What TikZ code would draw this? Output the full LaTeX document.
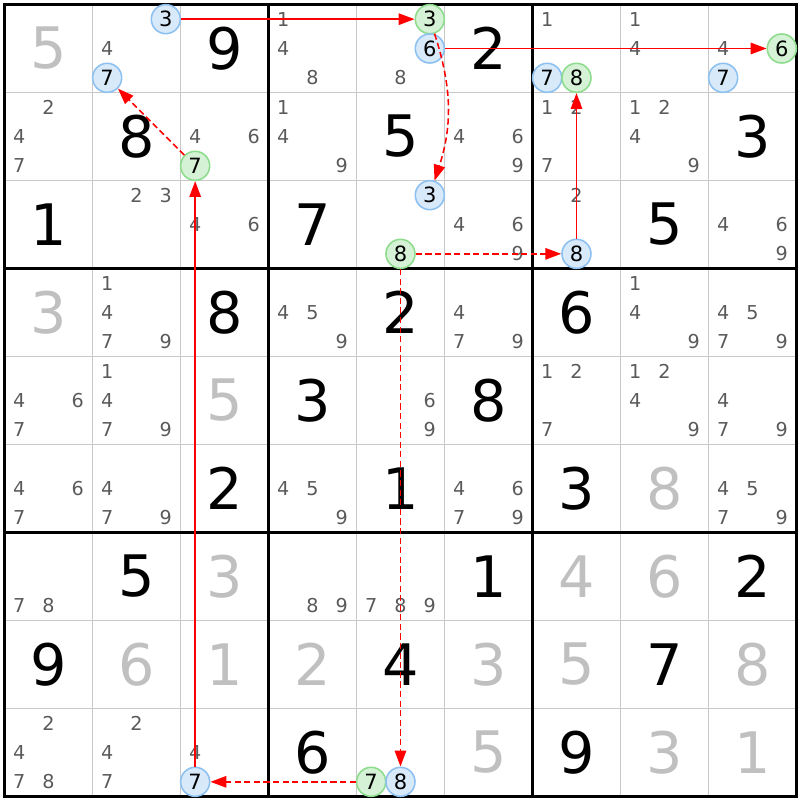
\documentclass[tikz,border=0pt]{standalone}
\usepackage{fontspec}
\setmainfont{DejaVu Sans}
\usetikzlibrary{arrows.meta}

\definecolor{solvedgray}{HTML}{C0C0C0}
\definecolor{candgray}{HTML}{5A5A5A}
\definecolor{gridgray}{HTML}{C8C8C8}
\definecolor{blueedge}{HTML}{8CC0F0}
\definecolor{bluefill}{HTML}{D8EAFA}
\definecolor{greenedge}{HTML}{8CDC8C}
\definecolor{greenfill}{HTML}{D6F2D6}

\begin{document}
\begin{tikzpicture}[x=1cm,y=-1cm]
		\tikzstyle{given} = [font=\fontsize{18.5}{20}\selectfont, text=black, inner sep=0pt]
		\tikzstyle{solved} = [given, text=solvedgray]
		\tikzstyle{cand} = [font=\fontsize{6.2}{7}\selectfont, text=candgray, inner sep=0pt]
		\tikzstyle{bluecand} = [circle, draw=blueedge, fill=bluefill, line width=0.5pt, 
		minimum size=0.33cm, inner sep=0pt, text=black, font=\fontsize{6.8}{7}\selectfont]
		\tikzstyle{greencand} = [bluecand, draw=greenedge, fill=greenfill]
		\tikzstyle{arrow} = [red, line width=0.5pt, -{Triangle[length=1.8mm,width=1.3mm]}]
		\tikzstyle{dasharrow} = [arrow, dash pattern=on 2pt off 1.1pt]
		\useasboundingbox (-0.051,-0.051) rectangle (9.040,9.040);
		% grid
		\foreach \i in {1,2,4,5,7,8} {
			\draw [gridgray, line width=0.55pt] (\i,0) -- (\i,9);
			\draw [gridgray, line width=0.55pt] (0,\i) -- (9,\i);
		}
		\foreach \i in {3,6} {
			\draw [black, line width=0.95pt] (\i,0) -- (\i,9);
			\draw [black, line width=0.95pt] (0,\i) -- (9,\i);
		}
		\draw [black, line width=0.95pt] (0,0) rectangle (9,9);
		% givens and solved cells
		\foreach \r/\c/\v in {1/3/9,1/6/2,2/2/8,2/5/5,2/9/3,3/1/1,3/4/7,3/8/5,4/3/8,4/5/2,
			4/7/6,5/4/3,5/6/8,6/3/2,6/5/1,6/7/3,7/2/5,7/6/1,7/9/2,8/1/9,8/5/4,8/8/7,9/4/6,9/7/9}
			\node (g\r\c) [given] at (\c-0.5,\r-0.5) {\v};
		\foreach \r/\c/\v in {1/1/5,4/1/3,5/3/5,6/8/8,7/3/3,7/7/4,7/8/6,8/2/6,8/3/1,8/4/2,
			8/6/3,8/7/5,8/9/8,9/6/5,9/8/3,9/9/1}
			\node (s\r\c) [solved] at (\c-0.5,\r-0.5) {\v};
		% candidates
		\foreach \r/\c/\ds in {1/2/{4},1/4/{1,4,8},1/5/{8},1/7/{1},1/8/{1,4},1/9/{4},
			2/1/{2,4,7},2/3/{4,6},2/4/{1,4,9},2/6/{4,6,9},2/7/{1,2,7},2/8/{1,2,4,9},
			3/2/{2,3},3/3/{4,6},3/6/{4,6,9},3/7/{2},3/9/{4,6,9},
			4/2/{1,4,7,9},4/4/{4,5,9},4/6/{4,7,9},4/8/{1,4,9},4/9/{4,5,7,9},
			5/1/{4,6,7},5/2/{1,4,7,9},5/5/{6,9},5/7/{1,2,7},5/8/{1,2,4,9},5/9/{4,7,9},
			6/1/{4,6,7},6/2/{4,7,9},6/4/{4,5,9},6/6/{4,6,7,9},6/9/{4,5,7,9},
			7/1/{7,8},7/4/{8,9},7/5/{7,8,9},9/1/{2,4,7,8},9/2/{2,4,7},9/3/{4}} {
			\foreach \d in \ds {
				\pgfmathtruncatemacro{\cx}{mod(\d-1,3)}
				\pgfmathtruncatemacro{\cy}{div(\d-1,3)}
				\node (k\r\c\d) [cand] at ({\c-1+(\cx+0.5)/3},{\r-1+(\cy+0.5)/3}) {\d};
			}
		}
		% marked candidates
		\foreach \r/\c/\d/\s in {1/2/3/bluecand,1/2/7/bluecand,1/5/3/greencand,1/5/6/bluecand,
			1/7/7/bluecand,1/7/8/greencand,1/9/6/greencand,1/9/7/bluecand,2/3/7/greencand,
			3/5/3/bluecand,3/5/8/greencand,3/7/8/bluecand,9/3/7/bluecand,9/5/7/greencand,
			9/5/8/bluecand} {
			\pgfmathtruncatemacro{\cx}{mod(\d-1,3)}
			\pgfmathtruncatemacro{\cy}{div(\d-1,3)}
			\node (n\r\c\d) [\s] at ({\c-1+(\cx+0.5)/3},{\r-1+(\cy+0.5)/3}) {\d};
		}
		% chain
		\draw [arrow] (n123) -- (n153);
		\draw [dasharrow] (n153) to[bend left=18] (n353);
		\draw [arrow] (n156) -- (n196);
		\draw [dasharrow] (n358) -- (n378);
		\draw [arrow] (n378) -- (n178);
		\draw [dasharrow] (n358) -- (n958);
		\draw [dasharrow] (n957) -- (n937);
		\draw [arrow] (n937) -- (n237);
		\draw [dasharrow] (n237) -- (n127);
\end{tikzpicture}
\end{document}
